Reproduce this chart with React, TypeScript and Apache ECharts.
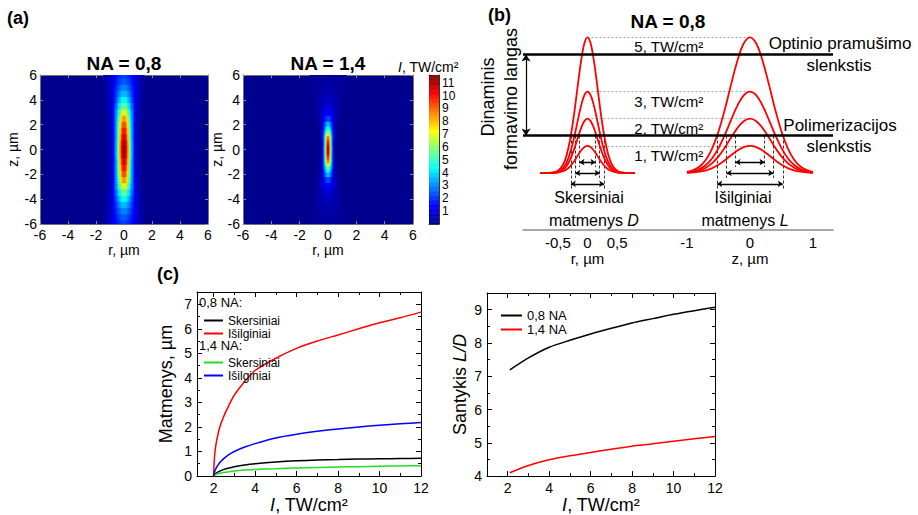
import React, { useEffect, useRef } from "react";
import * as echarts from "echarts";

const FONT = '"Liberation Sans", Arial, Helvetica, sans-serif';

// ---------------- (a) intensity maps, quadrant values in TW/cm² (mirrored about r = 0 and z = 0)
const mapA_r = [0, 0.1, 0.2, 0.3, 0.4, 0.5, 0.6, 0.7, 0.8, 0.9, 1.0, 1.1, 1.2, 1.3, 1.4];
const mapA_z = [0, 0.5, 1, 1.5, 2, 2.5, 3, 3.5, 4, 4.5, 5, 5.5, 6];
const mapA_I = [
  [11.5, 11.1, 10.0, 8.5, 6.6, 4.9, 3.4, 2.3, 1.4, 0.8, 0.5, 0.3, 0.1, 0, 0],
  [11.3, 10.9, 9.9, 8.3, 6.5, 4.8, 3.4, 2.2, 1.4, 0.8, 0.5, 0.3, 0.1, 0, 0],
  [10.8, 10.4, 9.4, 7.9, 6.2, 4.6, 3.2, 2.1, 1.3, 0.8, 0.5, 0.3, 0.1, 0, 0],
  [10.2, 9.9, 8.9, 7.6, 6.0, 4.5, 3.2, 2.2, 1.4, 0.8, 0.5, 0.3, 0.1, 0, 0],
  [9.5, 9.2, 8.4, 7.2, 5.7, 4.3, 3.2, 2.1, 1.4, 0.9, 0.5, 0.3, 0.1, 0, 0],
  [8.5, 8.3, 7.6, 6.6, 5.4, 4.1, 3.1, 2.2, 1.4, 0.9, 0.6, 0.3, 0.2, 0.1, 0],
  [7.2, 7.0, 6.5, 5.7, 4.8, 3.8, 3.0, 2.2, 1.5, 1.0, 0.7, 0.4, 0.2, 0.1, 0],
  [5.7, 5.6, 5.2, 4.7, 4.0, 3.3, 2.7, 2.0, 1.5, 1.1, 0.7, 0.5, 0.3, 0.1, 0.1],
  [4.6, 4.5, 4.3, 3.9, 3.4, 2.9, 2.3, 1.8, 1.4, 1.0, 0.7, 0.5, 0.3, 0.2, 0.1],
  [3.7, 3.6, 3.5, 3.2, 2.9, 2.5, 2.1, 1.7, 1.3, 1.0, 0.8, 0.6, 0.4, 0.2, 0.1],
  [3.0, 3.0, 2.9, 2.7, 2.4, 2.2, 1.9, 1.6, 1.3, 1.0, 0.8, 0.6, 0.4, 0.3, 0.2],
  [2.5, 2.5, 2.4, 2.3, 2.1, 1.9, 1.7, 1.4, 1.2, 1.0, 0.8, 0.6, 0.5, 0.3, 0.2],
  [2.2, 2.2, 2.1, 2.0, 1.9, 1.7, 1.6, 1.4, 1.2, 1.0, 0.8, 0.7, 0.5, 0.4, 0.3],
];

const mapB_r = [0, 0.05, 0.1, 0.15, 0.2, 0.25, 0.3, 0.4, 0.5, 0.6, 0.8, 1.0, 1.2];
const mapB_z = [0, 0.25, 0.5, 0.75, 1, 1.25, 1.5, 1.75, 2, 2.5, 3, 3.5, 4, 5, 6];
const mapB_I = [
  [11.5, 11.1, 10.0, 8.3, 6.5, 4.7, 3.2, 1.2, 0.3, 0.1, 0, 0, 0],
  [11.3, 10.9, 9.8, 8.2, 6.4, 4.6, 3.1, 1.1, 0.3, 0.1, 0, 0, 0],
  [10.8, 10.4, 9.4, 7.8, 6.1, 4.4, 3.0, 1.1, 0.3, 0.1, 0, 0, 0],
  [10.0, 9.7, 8.8, 7.5, 5.9, 4.4, 3.1, 1.2, 0.4, 0.1, 0, 0, 0],
  [9.2, 8.9, 8.2, 7.0, 5.7, 4.3, 3.1, 1.3, 0.5, 0.1, 0, 0, 0],
  [7.6, 7.4, 6.8, 5.9, 4.9, 3.8, 2.8, 1.3, 0.5, 0.1, 0, 0, 0],
  [6.0, 5.9, 5.5, 4.8, 4.1, 3.3, 2.6, 1.3, 0.6, 0.2, 0, 0, 0],
  [4.8, 4.7, 4.4, 3.9, 3.4, 2.8, 2.2, 1.2, 0.5, 0.2, 0, 0, 0],
  [3.8, 3.7, 3.5, 3.2, 2.8, 2.3, 1.9, 1.1, 0.6, 0.2, 0, 0, 0],
  [2.3, 2.3, 2.2, 2.1, 1.9, 1.7, 1.5, 1.0, 0.6, 0.4, 0.1, 0, 0],
  [1.5, 1.5, 1.4, 1.4, 1.3, 1.2, 1.1, 0.9, 0.6, 0.4, 0.2, 0, 0],
  [1.0, 1.0, 1.0, 0.9, 0.9, 0.9, 0.8, 0.7, 0.5, 0.4, 0.2, 0.1, 0],
  [0.7, 0.7, 0.7, 0.7, 0.6, 0.6, 0.6, 0.5, 0.4, 0.4, 0.2, 0.1, 0],
  [0.4, 0.4, 0.3, 0.3, 0.3, 0.3, 0.3, 0.3, 0.3, 0.2, 0.2, 0.1, 0.1],
  [0.2, 0.2, 0.2, 0.2, 0.2, 0.2, 0.2, 0.2, 0.2, 0.2, 0.1, 0.1, 0.1],
];
const colorbarMin = 0;
const colorbarMax = 11.6;
const colorbarTicks = [1, 2, 3, 4, 5, 6, 7, 8, 9, 10, 11];
const jet = ["#00008F", "#0000FF", "#0080FF", "#00FFFF", "#80FF80", "#FFFF00", "#FF8000", "#FF0000", "#800000"];

// ---------------- (b) schematic profiles (NA = 0,8)
const peakLevels = [1, 2, 3, 5]; // TW/cm²
const rOffsets = [0, 0.05, 0.1, 0.15, 0.2, 0.25, 0.3, 0.35, 0.4, 0.45, 0.5, 0.55, 0.6, 0.65, 0.7, 0.75, 0.8];
const rProfile = [1, 0.96, 0.849, 0.693, 0.52, 0.361, 0.23, 0.135, 0.073, 0.037, 0.017, 0.007, 0.003, 0.001, 0, 0, 0];
const zOffsets = [0, 0.1, 0.2, 0.3, 0.4, 0.5, 0.6, 0.7, 0.8, 0.9, 1.0];
const zProfile = [1, 0.954, 0.827, 0.653, 0.468, 0.306, 0.182, 0.098, 0.048, 0.022, 0.009];
const polymerThreshold = 1.38;
const breakdownThreshold = 4.37;
const rHalfWidths = [0.135, 0.205, 0.28]; // for 2, 3, 5 TW/cm²
const zHalfWidths = [0.23, 0.37, 0.52];
const arrowLevels = [0.4, 0, -0.4];

// ---------------- (c) sizes and ratio
const cIntensity = [2, 2.03, 2.07, 2.1, 2.15, 2.2, 2.3, 2.5, 2.75, 3, 3.5, 4, 5, 6, 7, 8, 9, 10, 11, 12];
const transverse08 = [0, 0.04, 0.08, 0.1, 0.13, 0.16, 0.2, 0.27, 0.33, 0.38, 0.45, 0.5, 0.57, 0.62, 0.65, 0.67, 0.69, 0.7, 0.71, 0.72];
const longitudinal08 = [0, 0.6, 1.0, 1.2, 1.45, 1.65, 2.0, 2.45, 2.9, 3.3, 3.85, 4.3, 4.8, 5.2, 5.5, 5.75, 6.0, 6.25, 6.45, 6.68];
const transverse14 = [0, 0.02, 0.04, 0.06, 0.08, 0.09, 0.11, 0.14, 0.17, 0.2, 0.24, 0.27, 0.3, 0.33, 0.35, 0.37, 0.38, 0.4, 0.41, 0.42];
const longitudinal14 = [0, 0.12, 0.22, 0.28, 0.36, 0.43, 0.55, 0.72, 0.88, 1.0, 1.18, 1.32, 1.55, 1.7, 1.82, 1.92, 2.0, 2.07, 2.13, 2.18];
const ratioIntensity = [2.1, 3, 4, 5, 6, 7, 8, 9, 10, 11, 12];
const ratio08 = [7.19, 7.55, 7.87, 8.08, 8.27, 8.44, 8.6, 8.73, 8.86, 8.97, 9.07];
const ratio14 = [4.1, 4.32, 4.49, 4.61, 4.71, 4.81, 4.9, 4.97, 5.05, 5.12, 5.19];
const cTicksEven = [2, 4, 6, 8, 10, 12];
const cTicksOdd = [3, 5, 7, 9, 11];

// ---------------- layout constants for panel (b)
const bLeft = 523;
const bRight = 833;
const rCenterPx = 587.5;
const zCenterPx = 750;

function edges(arr: number[], i: number, limit: number) {
  const lo = i === 0 ? 0 : (arr[i - 1] + arr[i]) / 2;
  const hi = i === arr.length - 1 ? Math.min(limit, arr[i] + (arr[i] - arr[i - 1]) / 2) : (arr[i] + arr[i + 1]) / 2;
  return [lo, hi];
}

function buildCells(rs: number[], zs: number[], vals: number[][]) {
  const out: number[][] = [];
  for (let i = 0; i < zs.length; i++) {
    const [zlo, zhi] = edges(zs, i, 6);
    for (let j = 0; j < rs.length; j++) {
      const [rlo, rhi] = edges(rs, j, 6);
      const v = vals[i][j];
      for (const sr of [1, -1]) {
        for (const sz of [1, -1]) {
          const r0 = sr > 0 ? rlo : -rhi;
          const r1 = sr > 0 ? rhi : -rlo;
          const z0 = sz > 0 ? zlo : -zhi;
          const z1 = sz > 0 ? zhi : -zlo;
          out.push([r0, r1, z0, z1, v]);
        }
      }
    }
  }
  return out;
}

function colorbarCells() {
  const out: number[][] = [];
  const step = 0.1;
  for (let v = colorbarMin; v < colorbarMax - 1e-9; v += step) {
    const hi = Math.min(colorbarMax, v + step);
    out.push([0, 1, v, hi, (v + hi) / 2]);
  }
  return out;
}

const rectItem = (_params: any, api: any) => {
  const a = api.coord([api.value(0), api.value(3)]);
  const b = api.coord([api.value(1), api.value(2)]);
  const c = api.visual("color");
  return {
    type: "rect",
    shape: { x: a[0], y: a[1], width: b[0] - a[0], height: b[1] - a[1] },
    style: { fill: c, stroke: c, lineWidth: 0.6 },
  };
};

const mirror = (offs: number[], prof: number[], peak: number) => {
  const pts: number[][] = [];
  for (let i = offs.length - 1; i > 0; i--) pts.push([-offs[i], peak * prof[i]]);
  for (let i = 0; i < offs.length; i++) pts.push([offs[i], peak * prof[i]]);
  return pts;
};

const txt = { fontFamily: FONT, color: "#000" };
const commaFmt = (v: number) => String(v).replace(".", ",");

function buildOption() {
  const xAxis: any[] = [];
  const yAxis: any[] = [];
  const addX = (o: any) => { xAxis.push({ type: "value", splitLine: { show: false }, ...o }); return xAxis.length - 1; };
  const addY = (o: any) => { yAxis.push({ type: "value", splitLine: { show: false }, ...o }); return yAxis.length - 1; };

  const heatLine = { show: true, onZero: false, lineStyle: { color: "#707070", width: 1 } };
  const heatTick = { show: true, inside: true, length: 3, lineStyle: { color: "#8a8a8a" } };

  const heatAxes = (gi: number, nameGapY: number) => {
    const xi = addX({
      gridIndex: gi, min: -6, max: 6, interval: 2, position: "bottom",
      axisLine: heatLine, axisTick: heatTick,
      axisLabel: { fontSize: 14, margin: 4, ...txt },
      name: "r, µm", nameLocation: "middle", nameGap: 15, nameTextStyle: { fontSize: 14, ...txt },
    });
    addX({ gridIndex: gi, min: -6, max: 6, interval: 2, position: "top", axisLine: heatLine, axisTick: heatTick, axisLabel: { show: false } });
    const yi = addY({
      gridIndex: gi, min: -6, max: 6, interval: 2, position: "left",
      axisLine: heatLine, axisTick: heatTick,
      axisLabel: { fontSize: 14, margin: 3, ...txt },
      name: "z, µm", nameLocation: "middle", nameGap: nameGapY, nameTextStyle: { fontSize: 14, ...txt },
    });
    addY({ gridIndex: gi, min: -6, max: 6, interval: 2, position: "right", axisLine: heatLine, axisTick: heatTick, axisLabel: { show: false } });
    return [xi, yi];
  };
  const [hAx, hAy] = heatAxes(0, 20);
  const [hBx, hBy] = heatAxes(1, 19);

  const cbLine = { show: true, onZero: false, lineStyle: { color: "#333", width: 1 } };
  const cbx = addX({ gridIndex: 2, min: 0, max: 1, position: "bottom", axisLine: cbLine, axisTick: { show: false }, axisLabel: { show: false } });
  addX({ gridIndex: 2, min: 0, max: 1, position: "top", axisLine: cbLine, axisTick: { show: false }, axisLabel: { show: false } });
  const cby = addY({
    gridIndex: 2, min: colorbarMin, max: colorbarMax, position: "right",
    axisLine: cbLine, axisTick: { show: true, inside: true, length: 2, customValues: colorbarTicks, lineStyle: { color: "#333" } },
    axisLabel: { fontSize: 12, lineHeight: 11, margin: 3, customValues: colorbarTicks, ...txt },
  });
  addY({ gridIndex: 2, min: colorbarMin, max: colorbarMax, position: "left", axisLine: cbLine,
    axisTick: { show: true, inside: true, length: 2, customValues: colorbarTicks, lineStyle: { color: "#333" } }, axisLabel: { show: false } });

  const bY = { min: -2.1, max: 5.6, show: false };
  const rX = addX({
    gridIndex: 3, min: -0.8, max: 0.8, axisLine: { show: false, onZero: false }, axisTick: { show: false },
    axisLabel: { customValues: [-0.5, 0, 0.5], formatter: commaFmt, fontSize: 15, margin: 5, ...txt },
    name: "r, µm", nameLocation: "middle", nameGap: 21, nameTextStyle: { fontSize: 15, ...txt },
  });
  const rY = addY({ gridIndex: 3, ...bY });
  const zX = addX({
    gridIndex: 4, min: -1, max: 1, axisLine: { show: false, onZero: false }, axisTick: { show: false },
    axisLabel: { customValues: [-1, 0, 1], formatter: commaFmt, fontSize: 15, margin: 5, ...txt },
    name: "z, µm", nameLocation: "middle", nameGap: 21, nameTextStyle: { fontSize: 15, ...txt },
  });
  const zY = addY({ gridIndex: 4, ...bY });
  const tX = addX({
    gridIndex: 5, min: bLeft, max: bRight, axisLine: { show: true, onZero: false, lineStyle: { color: "#8c8c8c", width: 1.5 } },
    axisTick: { show: false }, axisLabel: { show: false },
  });
  const tY = addY({ gridIndex: 5, ...bY });

  const cLine = { show: true, onZero: false, lineStyle: { color: "#000", width: 1 } };
  const cTick = { show: true, inside: true, length: 5, lineStyle: { color: "#000" } };
  const cMinor = { show: true, inside: true, length: 3, lineStyle: { color: "#000" } };
  const xNameRich = { fontSize: 18, ...txt, rich: { i: { fontSize: 18, fontStyle: "italic", fontFamily: FONT, color: "#000" } } };
  const cAxes = (gi: number, xmin: number, ymin: number, ymax: number, yName: string, yGap: number) => {
    const xi = addX({
      gridIndex: gi, min: xmin, max: 12, position: "bottom", axisLine: cLine,
      axisTick: { ...cTick, customValues: cTicksEven },
      axisLabel: { customValues: cTicksEven, fontSize: 14, margin: 5, ...txt },
      name: "{i|I}, TW/cm²", nameLocation: "middle", nameGap: 18, nameTextStyle: xNameRich,
    });
    addX({ gridIndex: gi, min: xmin, max: 12, position: "bottom", axisLine: { show: false, onZero: false }, axisTick: { ...cMinor, customValues: cTicksOdd }, axisLabel: { show: false } });
    addX({ gridIndex: gi, min: xmin, max: 12, position: "top", axisLine: cLine, axisTick: { ...cTick, customValues: cTicksEven }, axisLabel: { show: false } });
    addX({ gridIndex: gi, min: xmin, max: 12, position: "top", axisLine: { show: false, onZero: false }, axisTick: { ...cMinor, customValues: cTicksOdd }, axisLabel: { show: false } });
    const yi = addY({
      gridIndex: gi, min: ymin, max: ymax, interval: 1, position: "left", axisLine: cLine,
      axisTick: cTick, minorTick: { show: true, splitNumber: 2, length: 3, lineStyle: { color: "#000" } },
      axisLabel: { fontSize: 14, margin: 5, ...txt, showMaxLabel: false },
      name: yName, nameLocation: "middle", nameGap: yGap, nameTextStyle: xNameRich,
    });
    addY({
      gridIndex: gi, min: ymin, max: ymax, interval: 1, position: "right", axisLine: cLine,
      axisTick: cTick, minorTick: { show: true, splitNumber: 2, length: 3, lineStyle: { color: "#000" } }, axisLabel: { show: false },
    });
    return [xi, yi];
  };
  const [c1x, c1y] = cAxes(6, 1.2, 0, 7.5, "Matmenys, µm", 22);
  const [c2x, c2y] = cAxes(7, 1, 4, 9.5, "Santykis {i|L/D}", 18);

  const series: any[] = [];
  const cellSeries = (data: number[][], xi: number, yi: number) => ({
    type: "custom", xAxisIndex: xi, yAxisIndex: yi, renderItem: rectItem, data,
    dimensions: ["a0", "a1", "b0", "b1", "I"], encode: { x: [0, 1], y: [2, 3] }, clip: true, silent: true, z: 1,
  });
  series.push(cellSeries(buildCells(mapA_r, mapA_z, mapA_I), hAx, hAy));
  series.push(cellSeries(buildCells(mapB_r, mapB_z, mapB_I), hBx, hBy));
  series.push(cellSeries(colorbarCells(), cbx, cby));

  peakLevels.forEach((p) => {
    series.push({ type: "line", xAxisIndex: rX, yAxisIndex: rY, data: mirror(rOffsets, rProfile, p), smooth: 0.4, showSymbol: false, lineStyle: { color: "#FF0000", width: 1.8 }, z: 3 });
  });
  peakLevels.forEach((p) => {
    series.push({ type: "line", xAxisIndex: zX, yAxisIndex: zY, data: mirror(zOffsets, zProfile, p), smooth: 0.4, showSymbol: false, lineStyle: { color: "#FF0000", width: 1.8 }, z: 3 });
  });
  series.push({
    type: "lines", coordinateSystem: "cartesian2d", xAxisIndex: tX, yAxisIndex: tY, z: 4,
    data: [breakdownThreshold, polymerThreshold].map((t) => ({ coords: [[bLeft, t], [bRight, t]] })),
    lineStyle: { color: "#000", width: 2.6, opacity: 1 }, symbol: ["none", "none"],
  });
  series.push({
    type: "lines", coordinateSystem: "cartesian2d", xAxisIndex: tX, yAxisIndex: tY, z: 2,
    data: peakLevels.map((p) => ({ name: String(p), coords: [[rCenterPx, p], [zCenterPx, p]] })),
    lineStyle: { color: "#8a8a8a", width: 0.8, type: [2, 2], opacity: 1 }, symbol: ["none", "none"],
    label: { show: true, position: "insideMiddleBottom", distance: 2, formatter: "{b}, TW/cm²", fontSize: 15, opacity: 1, ...txt },
  });
  series.push({
    type: "lines", coordinateSystem: "cartesian2d", xAxisIndex: tX, yAxisIndex: tY, z: 4,
    data: [{ coords: [[bLeft + 3, polymerThreshold], [bLeft + 3, breakdownThreshold]] }],
    lineStyle: { color: "#000", width: 1.2, opacity: 1 }, symbol: ["arrow", "arrow"], symbolSize: 7,
  });
  const dims = (halfWidths: number[], xi: number, yi: number) => {
    const dashed: any[] = [];
    const arrows: any[] = [];
    halfWidths.forEach((w, k) => {
      const lvl = arrowLevels[k];
      dashed.push({ coords: [[-w, polymerThreshold], [-w, lvl - 0.18]] });
      dashed.push({ coords: [[w, polymerThreshold], [w, lvl - 0.18]] });
      arrows.push({ coords: [[-w, lvl], [w, lvl]] });
    });
    series.push({
      type: "lines", coordinateSystem: "cartesian2d", xAxisIndex: xi, yAxisIndex: yi, z: 2, data: dashed,
      lineStyle: { color: "#333", width: 1, type: [3, 2], opacity: 1 }, symbol: ["none", "none"],
    });
    series.push({
      type: "lines", coordinateSystem: "cartesian2d", xAxisIndex: xi, yAxisIndex: yi, z: 4, data: arrows,
      lineStyle: { color: "#000", width: 1.3, opacity: 1 }, symbol: ["arrow", "arrow"], symbolSize: 5,
    });
  };
  dims(rHalfWidths, rX, rY);
  dims(zHalfWidths, zX, zY);

  const cLineSeries = (name: string, xs: number[], ys: number[], color: string, xi: number, yi: number) => ({
    type: "line", name, xAxisIndex: xi, yAxisIndex: yi, data: xs.map((x, i) => [x, ys[i]]),
    showSymbol: false, smooth: 0.25, lineStyle: { color, width: 1.5 }, itemStyle: { color }, z: 3,
  });
  series.push(cLineSeries("Skersiniai (0,8 NA)", cIntensity, transverse08, "#000000", c1x, c1y));
  series.push(cLineSeries("Išilginiai (0,8 NA)", cIntensity, longitudinal08, "#FF0000", c1x, c1y));
  series.push(cLineSeries("Skersiniai (1,4 NA)", cIntensity, transverse14, "#22DD22", c1x, c1y));
  series.push(cLineSeries("Išilginiai (1,4 NA)", cIntensity, longitudinal14, "#0000FF", c1x, c1y));
  series.push(cLineSeries("0,8 NA", ratioIntensity, ratio08, "#000000", c2x, c2y));
  series.push(cLineSeries("1,4 NA", ratioIntensity, ratio14, "#FF0000", c2x, c2y));

  const legendBase = {
    orient: "vertical", icon: "rect", itemWidth: 19, itemHeight: 2, itemGap: 0, selectedMode: false,
    textStyle: { fontSize: 12, lineHeight: 13, ...txt },
    formatter: (n: string) => n.split(" (")[0],
  };

  const bold = (size: number) => `bold ${size}px ${FONT}`;
  const reg = (size: number) => `${size}px ${FONT}`;
  const t = (x: number, y: number, text: string, font: string, align = "center", extra: any = {}) => ({
    type: "text", x, y, silent: true,
    style: { text, font, fill: "#000", align, verticalAlign: "middle", textAlign: align, textVerticalAlign: "middle", ...extra },
  });
  const italicRich = (size: number) => ({ rich: { i: { fontStyle: "italic", fontSize: size, fontFamily: FONT, fill: "#000" } } });

  const graphic = [
    t(7, 18, "(a)", bold(18), "left"),
    t(124, 63, "NA = 0,8", bold(19)),
    t(328, 63, "NA = 1,4", bold(19)),
    t(398, 67, "{i|I}, TW/cm²", reg(14), "left", italicRich(14)),
    t(488, 15, "(b)", bold(18), "left"),
    t(668, 21, "NA = 0,8", bold(19)),
    { ...t(488, 97, "Dinaminis", reg(18)), rotation: Math.PI / 2 },
    { ...t(511, 99, "formavimo langas", reg(18)), rotation: Math.PI / 2 },
    t(840, 43, "Optinio pramušimo", reg(17)),
    t(839, 65, "slenkstis", reg(17)),
    t(840, 125, "Polimerizacijos", reg(17)),
    t(839, 146, "slenkstis", reg(17)),
    t(589, 197, "Skersiniai", reg(16)),
    t(594, 220, "matmenys {i|D}", reg(16), "center", italicRich(16)),
    t(743, 197, "Išilginiai", reg(16)),
    t(745, 220, "matmenys {i|L}", reg(16), "center", italicRich(16)),
    t(157, 274, "(c)", bold(18), "left"),
    t(199, 302, "0,8 NA:", reg(13), "left"),
    t(199, 345, "1,4 NA:", reg(13), "left"),
  ];

  return {
    animation: false,
    backgroundColor: "#ffffff",
    textStyle: { fontFamily: FONT },
    grid: [
      { left: 40, top: 75, width: 168, height: 149, show: true, backgroundColor: jet[0], borderWidth: 0 },
      { left: 243, top: 75, width: 170, height: 149, show: true, backgroundColor: jet[0], borderWidth: 0 },
      { left: 429, top: 75, width: 10, height: 149 },
      { left: 540, top: 21, width: 95, height: 209 },
      { left: 687, top: 21, width: 126, height: 209 },
      { left: bLeft, top: 21, width: bRight - bLeft, height: 209 },
      { left: 197, top: 292, width: 224, height: 184 },
      { left: 487, top: 293, width: 228, height: 185 },
    ],
    xAxis,
    yAxis,
    visualMap: {
      type: "continuous", show: false, min: colorbarMin, max: colorbarMax, dimension: 4,
      seriesIndex: [0, 1, 2], inRange: { color: jet },
    },
    legend: [
      { ...legendBase, left: 199, top: 309, data: ["Skersiniai (0,8 NA)", "Išilginiai (0,8 NA)"] },
      { ...legendBase, left: 199, top: 351, data: ["Skersiniai (1,4 NA)", "Išilginiai (1,4 NA)"] },
      { ...legendBase, left: 496, top: 304, itemGap: 1, itemWidth: 21, textStyle: { fontSize: 13, lineHeight: 13, ...txt }, data: ["0,8 NA", "1,4 NA"] },
    ],
    graphic,
    series,
  };
}

export default function App() {
  const ref = useRef<HTMLDivElement>(null);
  useEffect(() => {
    if (!ref.current) return;
    const chart = echarts.init(ref.current, null, { renderer: "svg" });
    chart.setOption(buildOption() as any);
    return () => chart.dispose();
  }, []);
  return (
    <div
      ref={ref}
      style={{ position: "absolute", left: 0, top: 0, width: 918, height: 515, background: "#fff" }}
    />
  );
}
